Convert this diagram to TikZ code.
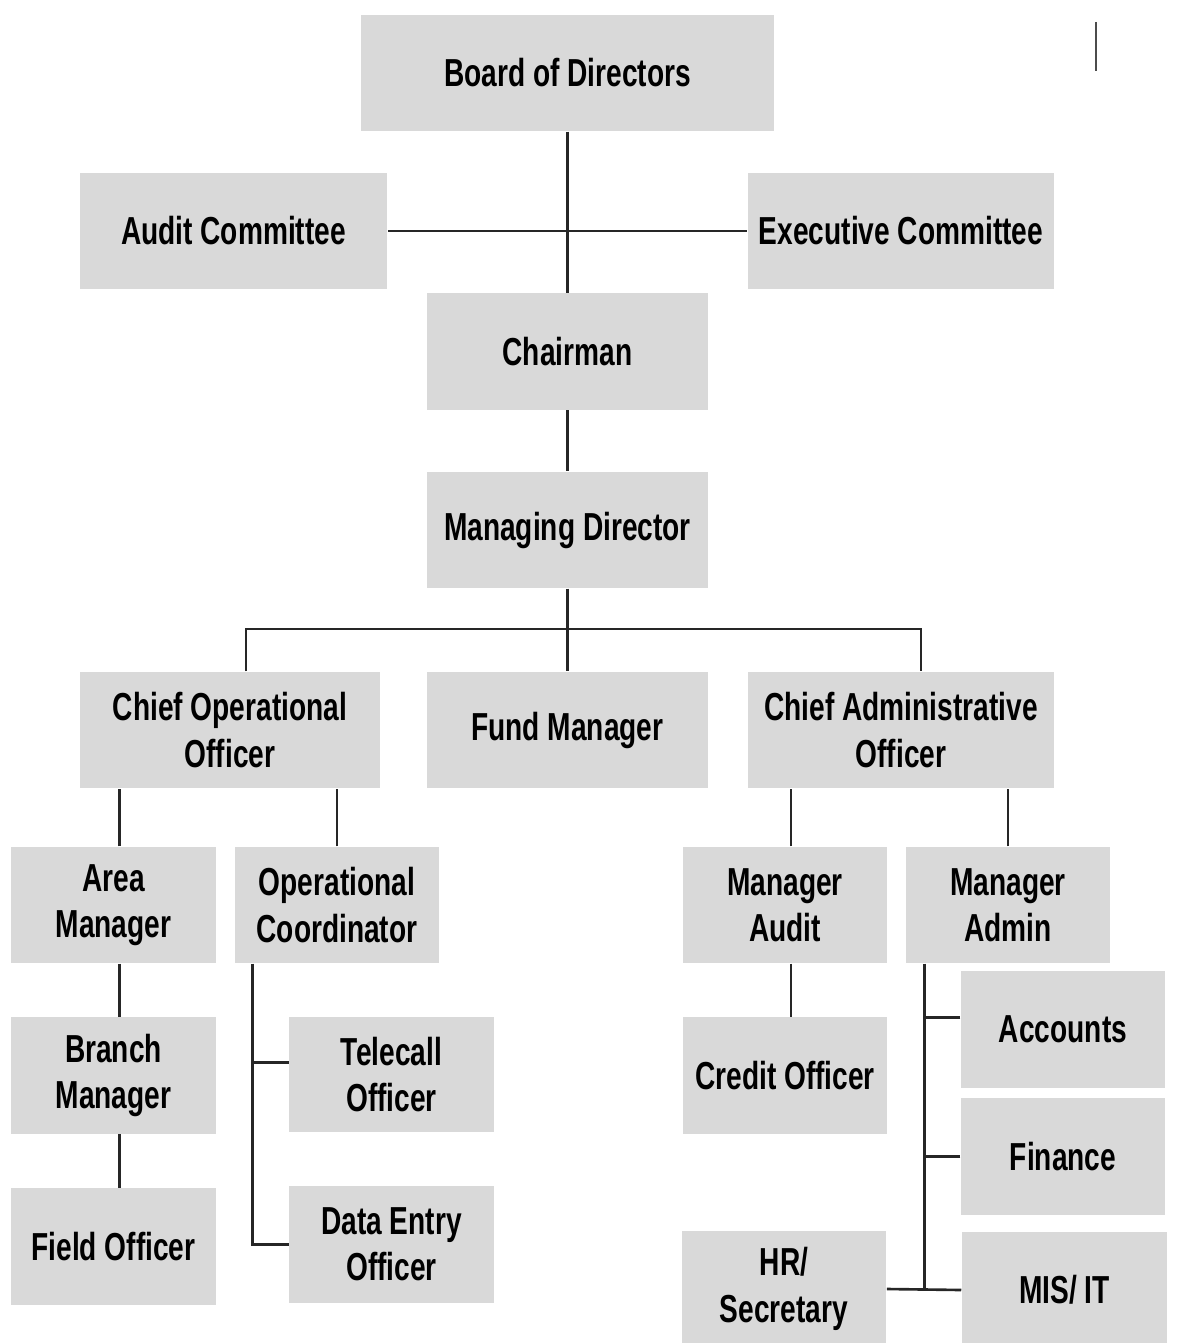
\documentclass[tikz,border=0pt]{standalone}
\usepackage{fontspec}
\setmainfont{Liberation Sans}[FakeStretch=0.72]
\definecolor{boxgray}{HTML}{D9D9D9}
\tikzset{
    unit/.style={rectangle, fill=boxgray, inner sep=2pt, align=center,
        minimum height=1.16cm, font=\fontsize{11.1}{13.2}\selectfont\bfseries},
    wide/.style={unit, minimum width=3.06cm},
    mid/.style={unit, minimum width=2.81cm},
    small/.style={unit, minimum width=2.04cm},
    link/.style={line width=0.75pt, black!85}
}

\begin{document}
\begin{tikzpicture}[x=0.01cm, y=-0.01cm]
    \useasboundingbox (0, 0) rectangle (1188, 1343);

    \node [unit, minimum width=4.13cm] (bod) at (567.5, 73) {Board of Directors};
    \node [wide, minimum width=3.07cm] (audit) at (233.5, 231) {Audit Committee};
    \node [wide] (exec) at (901, 231) {Executive Committee};
    \node [mid] (chair) at (567.5, 351.5) {Chairman};
    \node [mid] (md) at (567.5, 530) {Managing Director};

    \node [wide, minimum width=3.00cm] (coo) at (230, 730) {Chief Operational\\Officer};
    \node [mid] (fund) at (567.5, 730) {Fund Manager};
    \node [wide] (cao) at (901, 730) {Chief Administrative\\Officer};

    \node [small, minimum width=2.05cm] (area) at (113.5, 905) {Area\\Manager};
    \node [small] (opc) at (337, 905) {Operational\\Coordinator};
    \node [small] (maud) at (785, 905) {Manager\\Audit};
    \node [small] (madm) at (1008, 905) {Manager\\Admin};

    \node [small, minimum width=2.05cm] (branch) at (113.5, 1075.5) {Branch\\Manager};
    \node [small, minimum width=2.05cm] (field) at (113.5, 1246.5) {Field Officer};
    \node [small, minimum height=1.15cm] (tele) at (391.5, 1074.5) {Telecall\\Officer};
    \node [small] (deo) at (391.5, 1244.5) {Data Entry\\Officer};
    \node [small] (credit) at (785, 1075.5) {Credit Officer};

    \node [small] (acc) at (1063, 1029.5) {Accounts};
    \node [small] (fin) at (1063, 1156.5) {Finance};
    \node [small] (hr) at (784, 1289) {HR/\\Secretary};
    \node [small, minimum width=2.05cm] (mis) at (1064.5, 1290) {MIS/ IT};

    \draw [link] (bod) -- (chair);
    \draw [link] (audit) -- (exec);
    \draw [link] (chair) -- (md);

    \coordinate (bus) at (567.5, 629);
    \draw [link] (md) -- (fund);
    \draw [link] ([xshift=0.16cm]coo.north) |- (bus) -| ([xshift=0.2cm]cao.north);

    \draw [link] ([xshift=0.06cm]area.north) -- ([xshift=0.06cm]area.north |- coo.south);
    \draw [link] (opc.north) -- (opc.north |- coo.south);
    \draw [link] ([xshift=0.06cm]area.south) -- ([xshift=0.06cm]branch.north);
    \draw [link] ([xshift=0.06cm]branch.south) -- ([xshift=0.06cm]field.north);

    \coordinate (opspine) at ([xshift=0.18cm]opc.south west);
    \draw [link] (opspine) |- (deo.west);
    \draw [link] ([yshift=0.12cm]tele.west) -- ([yshift=0.12cm]tele.west -| opspine);

    \draw [link] ([xshift=0.06cm]maud.north) -- ([xshift=0.06cm]maud.north |- cao.south);
    \draw [link] (madm.north) -- (madm.north |- cao.south);
    \draw [link] ([xshift=0.06cm]maud.south) -- ([xshift=0.06cm]credit.north);

    \coordinate (adspine) at ([xshift=0.19cm]madm.south west);
    \draw [link] (adspine) -- (adspine |- mis.west);
    \draw [link] ([yshift=0.12cm]acc.west) -- ([yshift=0.12cm]acc.west -| adspine);
    \draw [link] (fin.west) -- (fin.west -| adspine);
    \draw [link] (hr.east) -- (mis.west);

    \draw [line width=0.75pt, black!70] (1096, 22) -- (1096, 71);
\end{tikzpicture}
\end{document}
